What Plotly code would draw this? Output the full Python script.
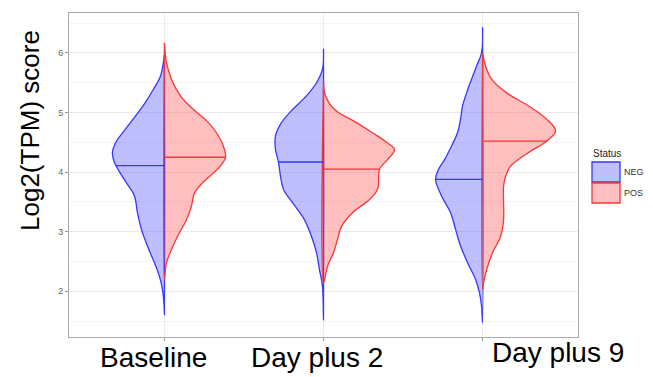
import numpy as np
import plotly.graph_objects as go

# ---------------- data ----------------
categories = ["Baseline", "Day plus 2", "Day plus 9"]
statuses = ["NEG", "POS"]

# density profiles (relative half-width) at score levels, per category and status
base_neg_y = [1.61, 1.80, 2.03, 2.25, 2.48, 2.76, 3.04, 3.32, 3.60, 3.82, 3.98, 4.16, 4.33, 4.49, 4.72, 4.94, 5.17, 5.39, 5.61, 5.84, 5.98]
base_neg_d = [0, 0.5, 2, 5, 10, 17, 23, 27, 30, 38, 44, 50, 52, 49, 39, 29, 19, 11, 4, 1, 0]
base_pos_y = [2.20, 2.48, 2.70, 2.92, 3.20, 3.43, 3.65, 3.82, 4.05, 4.24, 4.38, 4.61, 4.83, 5.05, 5.28, 5.56, 5.84, 6.17]
base_pos_d = [0, 2, 7, 13, 22, 27, 30, 38, 53, 61, 60, 54, 44, 29, 16, 7, 2, 0]

d2_neg_y = [1.52, 2.08, 2.36, 2.65, 2.92, 3.20, 3.49, 3.71, 3.93, 4.17, 4.38, 4.61, 4.83, 5.05, 5.28, 5.50, 5.73, 6.07]
d2_neg_d = [0, 1, 4, 7, 12, 19, 31, 40, 43, 45, 48, 48, 42, 31, 17, 7, 1, 0]
d2_pos_y = [2.14, 2.42, 2.65, 2.87, 3.09, 3.32, 3.54, 3.71, 3.82, 4.05, 4.21, 4.38, 4.49, 4.66, 4.83, 5.05, 5.28, 5.53]
d2_pos_d = [0, 4, 10, 14, 18, 29, 46, 54, 55, 56, 64, 71, 64, 49, 33, 11, 2, 0]

d9_neg_y = [1.47, 1.75, 1.97, 2.20, 2.48, 2.76, 3.04, 3.32, 3.60, 3.88, 4.05, 4.21, 4.44, 4.66, 4.89, 5.11, 5.33, 5.56, 5.78, 6.00, 6.43]
d9_neg_d = [0, 1, 3, 7, 15, 22, 27, 32, 41, 47, 44, 38, 31, 25, 22, 20, 16, 11, 6, 1, 0]
d9_pos_y = [2.03, 2.14, 2.36, 2.65, 2.92, 3.20, 3.49, 3.76, 3.93, 4.10, 4.33, 4.52, 4.69, 4.89, 5.11, 5.33, 5.56, 5.78, 6.00]
d9_pos_d = [0, 1, 4, 10, 18, 21, 21, 21, 23, 28, 46, 64, 73, 64, 46, 24, 9, 3, 0]

medians_neg = [4.11, 4.17, 3.88]
medians_pos = [4.25, 4.05, 4.52]

y_tick_vals = [2, 3, 4, 5, 6]

profiles = {
    ("Baseline", "NEG"): (base_neg_y, base_neg_d),
    ("Baseline", "POS"): (base_pos_y, base_pos_d),
    ("Day plus 2", "NEG"): (d2_neg_y, d2_neg_d),
    ("Day plus 2", "POS"): (d2_pos_y, d2_pos_d),
    ("Day plus 9", "NEG"): (d9_neg_y, d9_neg_d),
    ("Day plus 9", "POS"): (d9_pos_y, d9_pos_d),
}
medians = {"NEG": medians_neg, "POS": medians_pos}

# ---------------- style ----------------
W, H = 653, 377
L, R, T, B = 69, 75, 13, 40
SCALE = 1 / 159.0  # density units -> x-axis units
line_col = {"NEG": "rgb(55,55,255)", "POS": "rgb(245,55,55)"}
fill_col = {"NEG": "rgba(60,60,255,0.33)", "POS": "rgba(255,60,60,0.33)"}
side = {"NEG": -1, "POS": 1}
FONT = "Liberation Sans, Arial, sans-serif"

fig = go.Figure()

for status in statuses:
    for ci, cat in enumerate(categories):
        c = ci + 1
        ys, ds = profiles[(cat, status)]
        ys = np.array(ys, float)
        ds = np.array(ds, float) * SCALE
        xs = c + side[status] * ds
        px = np.concatenate([xs, [c, c]])
        py = np.concatenate([ys, [ys[-1], ys[0]]])
        fig.add_trace(go.Scatter(
            x=px, y=py, mode="lines", fill="toself",
            fillcolor=fill_col[status],
            line=dict(color=line_col[status], width=1.3, shape="spline", smoothing=1.0),
            showlegend=False, hoverinfo="skip"))
for status in statuses:
    for ci, cat in enumerate(categories):
        c = ci + 1
        ys, ds = profiles[(cat, status)]
        m = medians[status][ci]
        wm = float(np.interp(m, ys, ds)) * SCALE
        fig.add_trace(go.Scatter(
            x=[c, c + side[status] * wm], y=[m, m], mode="lines",
            line=dict(color=line_col[status], width=1.3),
            showlegend=False, hoverinfo="skip"))

def paper_x(px):
    return (px - L) / (W - L - R)

def paper_y(py):
    return (H - B - py) / (H - T - B)

# x labels (manually placed, as in the reference)
label_pos = [(153, 357), (317, 357), (558, 352)]
for cat, (lx, ly) in zip(categories, label_pos):
    fig.add_annotation(x=paper_x(lx), y=paper_y(ly), xref="paper", yref="paper",
                       text=cat, showarrow=False, xanchor="center", yanchor="middle",
                       font=dict(family=FONT, size=28, color="black"))

# y title
fig.add_annotation(x=paper_x(30), y=paper_y(131), xref="paper", yref="paper",
                   text="Log2(TPM) score", showarrow=False, textangle=-90,
                   xanchor="center", yanchor="middle",
                   font=dict(family=FONT, size=26, color="black"))

# manual legend
fig.add_annotation(x=paper_x(591), y=paper_y(153), xref="paper", yref="paper",
                   text="Status", showarrow=False, xanchor="left", yanchor="middle",
                   font=dict(family=FONT, size=10, color="#222222"))
for i, status in enumerate(statuses):
    y0 = 162 + i * 21
    fig.add_shape(type="rect", xref="paper", yref="paper",
                  x0=paper_x(592), x1=paper_x(620), y0=paper_y(y0), y1=paper_y(y0 + 20),
                  fillcolor=fill_col[status], line=dict(color=line_col[status], width=1.3))
    fig.add_annotation(x=paper_x(622), y=paper_y(y0 + 10), xref="paper", yref="paper",
                       text=status, showarrow=False, xanchor="left", yanchor="middle",
                       font=dict(family=FONT, size=9, color="#333333"))

fig.update_layout(
    width=W, height=H,
    margin=dict(l=L, r=R, t=T, b=B),
    paper_bgcolor="white", plot_bgcolor="white",
    showlegend=False,
    xaxis=dict(range=[0.4, 3.6], tickvals=[1, 2, 3], showticklabels=False,
               ticks="outside", ticklen=3, tickcolor="#999999",
               showgrid=True, gridcolor="#EBEBEB", gridwidth=1,
               zeroline=False, showline=True, linecolor="#AAAAAA", mirror=True),
    yaxis=dict(range=[1.234, 6.67], tickvals=y_tick_vals,
               ticktext=[str(v) for v in y_tick_vals],
               ticks="outside", ticklen=3, tickcolor="#999999",
               tickfont=dict(family=FONT, size=9, color="#666666"),
               showgrid=True, gridcolor="#EBEBEB", gridwidth=1,
               minor=dict(dtick=0.5, tick0=0, showgrid=True, gridcolor="#F4F4F4", ticks=""),
               zeroline=False, showline=True, linecolor="#AAAAAA", mirror=True),
)

fig.write_html("out.html")
